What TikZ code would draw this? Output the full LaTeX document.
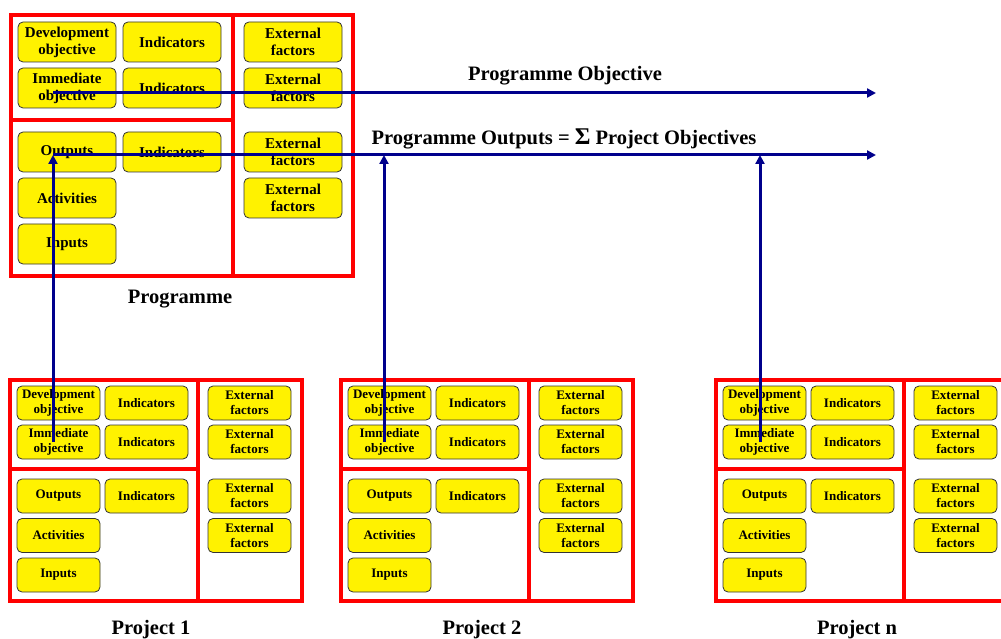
\documentclass[tikz,border=0pt]{standalone}
\usepackage{fontspec}
\setmainfont{Liberation Serif}
\usetikzlibrary{arrows.meta,positioning}
\definecolor{navyline}{RGB}{0,0,140}

\tikzset{
  box/.style={draw=black!80, fill=yellow, rounded corners=5pt, align=center, inner sep=0pt, line width=0.8pt},
  progbox/.style={box, minimum width=98pt, minimum height=40pt, font=\fontsize{15}{17}\selectfont\bfseries},
  projbox/.style={box, minimum width=83pt, minimum height=34pt, font=\fontsize{13}{15}\selectfont\bfseries},
  frame/.style={draw=red, line width=4pt},
  flow/.style={draw=navyline, line width=3pt, -{Triangle[length=9pt,width=9pt]}},
  caption/.style={font=\fontsize{20.5}{22}\selectfont\bfseries},
}

\begin{document}
\begin{tikzpicture}[x=1pt,y=-1pt]
      \useasboundingbox (0,0) rectangle (1001,639);
      \clip (0,0) rectangle (1001,639);

      % Programme frame
      \draw[frame] (11,15) rectangle (353,276);
      \draw[frame] (233,15) -- (233,276);
      \draw[frame] (11,120) -- (233,120);

      % Programme boxes
      \node[progbox] (prog-do) at (67,42) {Development\\objective};
      \node[progbox] (prog-io) at (67,88) {Immediate\\objective};
      \node[progbox] (prog-out) at (67,152) {Outputs};
      \node[progbox] (prog-act) at (67,198) {Activities};
      \node[progbox] (prog-in) at (67,244) {Inputs};
      \node[progbox] (prog-ind1) at (172,42) {Indicators};
      \node[progbox] (prog-ind2) at (172,88) {Indicators};
      \node[progbox] (prog-ind3) at (172,152) {Indicators};
      \node[progbox] (prog-ef1) at (293,42) {External\\factors};
      \node[progbox] (prog-ef2) at (293,88) {External\\factors};
      \node[progbox] (prog-ef3) at (293,152) {External\\factors};
      \node[progbox] (prog-ef4) at (293,198) {External\\factors};
      \node[caption] (prog-label) at (180,299) {Programme};

      % Projects
      \foreach \n/\dx in {1/0, 2/331, n/706} {
        \draw[frame] ({\dx+10},380) rectangle ({\dx+302},601);
        \draw[frame] ({\dx+198},380) -- ({\dx+198},601);
        \draw[frame] ({\dx+10},469) -- ({\dx+198},469);
        \node[projbox] (p\n-do) at ({\dx+58.5},403) {Development\\objective};
        \node[projbox] (p\n-io) at ({\dx+58.5},442) {Immediate\\objective};
        \node[projbox] (p\n-out) at ({\dx+58.5},496) {Outputs};
        \node[projbox] (p\n-act) at ({\dx+58.5},535.5) {Activities};
        \node[projbox] (p\n-in) at ({\dx+58.5},575) {Inputs};
        \node[projbox] (p\n-ind1) at ({\dx+146.5},403) {Indicators};
        \node[projbox] (p\n-ind2) at ({\dx+146.5},442) {Indicators};
        \node[projbox] (p\n-ind3) at ({\dx+146.5},496) {Indicators};
        \node[projbox] (p\n-ef1) at ({\dx+249.5},403) {External\\factors};
        \node[projbox] (p\n-ef2) at ({\dx+249.5},442) {External\\factors};
        \node[projbox] (p\n-ef3) at ({\dx+249.5},496) {External\\factors};
        \node[projbox] (p\n-ef4) at ({\dx+249.5},535.5) {External\\factors};
        \node[caption] (p\n-label) at ({\dx+151},630) {Project \n};
      }

      % Objective lines
      \coordinate (obj-start) at (53,93);
      \coordinate (obj-end) at (876,93);
      \coordinate (out-start) at (53,155);
      \coordinate (out-end) at (876,155);
      \node[caption] (obj-label) at (565,76) {Programme Objective};
      \node[caption] (out-label) at (564,139) {Programme Outputs = {\fontsize{24}{24}\selectfont Σ} Project Objectives};

      \draw[flow] (obj-start) -- (obj-end);
      \draw[flow] (out-start) -- (out-end);
      \draw[flow] ([xshift=-5.5pt]p1-io.center) -- ([xshift=-5.5pt]p1-io.center |- out-start);
      \draw[flow] ([xshift=-5.5pt]p2-io.center) -- ([xshift=-5.5pt]p2-io.center |- out-start);
      \draw[flow] ([xshift=-4.5pt]pn-io.center) -- ([xshift=-4.5pt]pn-io.center |- out-start);
    \end{tikzpicture}
\end{document}
